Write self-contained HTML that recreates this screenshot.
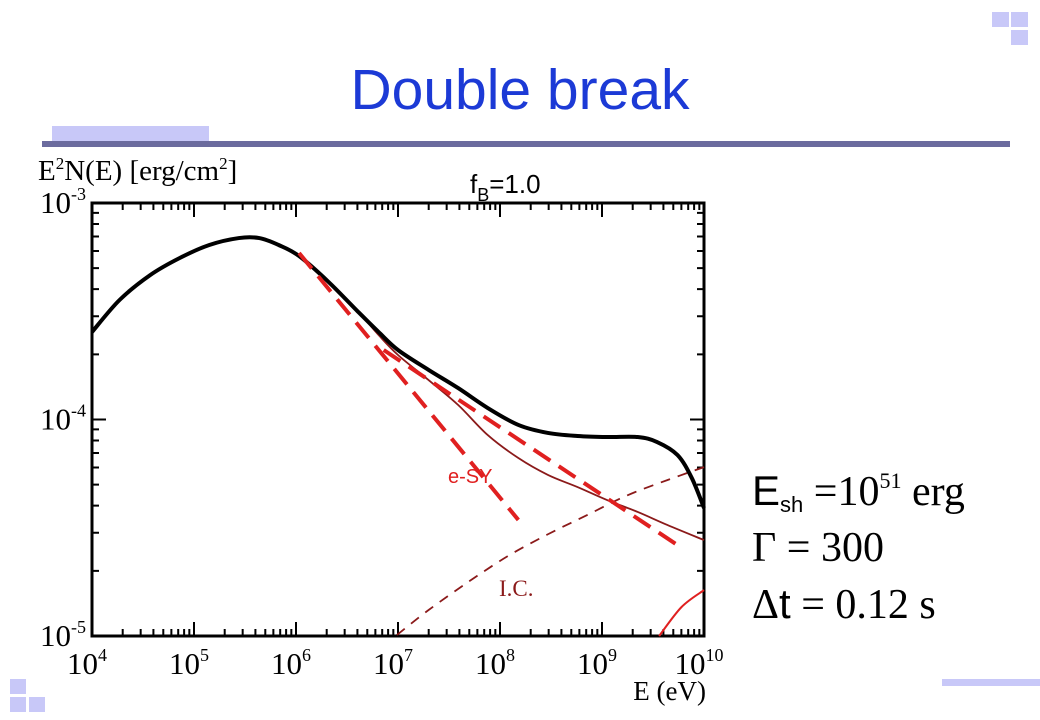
<!DOCTYPE html>
<html><head><meta charset="utf-8"><style>
body{margin:0;background:#fff;width:1040px;height:720px;overflow:hidden;position:relative;font-family:"Liberation Sans",sans-serif}
.sq{position:absolute;background:#c8c8f8}
</style></head><body>
<div class="sq" style="left:992px;top:12px;width:17px;height:15px"></div>
<div class="sq" style="left:1011px;top:12px;width:17px;height:15px"></div>
<div class="sq" style="left:1011px;top:30px;width:17px;height:15px"></div>
<div class="sq" style="left:10px;top:679px;width:16px;height:15px"></div>
<div class="sq" style="left:10px;top:697px;width:16px;height:15px"></div>
<div class="sq" style="left:29px;top:697px;width:16px;height:15px"></div>
<div class="sq" style="left:942px;top:679px;width:98px;height:7px"></div>
<div style="position:absolute;left:0;width:1040px;top:58px;text-align:center;font-size:57px;color:#1c3ad6;line-height:64px">Double break</div>
<div class="sq" style="left:52px;top:126px;width:157px;height:15px"></div>
<div style="position:absolute;left:42px;top:141px;width:968px;height:6px;background:#6b6b9e"></div>
<svg id="c" width="1040" height="720" style="position:absolute;left:0;top:0">
<text x="38" y="180" font-family="Liberation Serif,serif" font-size="29">E<tspan font-size="17" dy="-11">2</tspan><tspan dy="11">N(E) [erg/cm</tspan><tspan font-size="17" dy="-11">2</tspan><tspan dy="11">]</tspan></text>
<text x="470" y="193" font-size="26">f<tspan font-size="18" dy="8">B</tspan><tspan dy="-8">=1.0</tspan></text>
<text x="706" y="700" font-family="Liberation Serif,serif" font-size="27" text-anchor="end">E (eV)</text>
<g id="ticks"></g><g id="series"></g>
<text x="448" y="483" fill="#e02020" font-size="20">e-SY</text>
<text x="499" y="596" fill="#8b1a1a" font-family="Liberation Serif,serif" font-size="23">I.C.</text>
<g font-family="Liberation Serif,serif" font-size="42">
<text x="752" y="505"><tspan font-family="Liberation Sans,sans-serif">E</tspan><tspan font-family="Liberation Sans,sans-serif" font-size="22" dy="7">sh</tspan><tspan dy="-7"> =10</tspan><tspan font-size="22" dy="-17">51</tspan><tspan dy="17"> erg</tspan></text>
<text x="752" y="561">Γ = 300</text>
<text x="752" y="618">Δ<tspan font-family="Liberation Sans,sans-serif">t</tspan> = 0.12 s</text>
</g>
</svg>
<script>
const xDecades=[4,5,6,7,8,9,10];
const yDecades=[-3,-4,-5];
const totalLogE=[4.0,4.27,4.57,4.86,5.15,5.44,5.64,5.83,6.03,6.32,6.61,6.81,7.0,7.3,7.59,7.88,8.18,8.47,8.76,9.05,9.35,9.54,9.74,9.88,10.0];
const totalLogY=[-3.596,-3.448,-3.333,-3.254,-3.194,-3.162,-3.162,-3.194,-3.245,-3.365,-3.503,-3.596,-3.679,-3.771,-3.855,-3.947,-4.025,-4.062,-4.076,-4.081,-4.081,-4.104,-4.164,-4.27,-4.409];
const syLogE=[6.03,6.32,6.61,6.81,7.0,7.3,7.59,7.88,8.18,8.47,8.76,9.05,9.35,9.64,10.0];
const syLogY=[-3.245,-3.365,-3.503,-3.61,-3.702,-3.818,-3.933,-4.072,-4.178,-4.256,-4.312,-4.372,-4.427,-4.487,-4.557];
const icLogE=[6.99,7.3,7.69,8.08,8.47,8.86,9.25,9.64,10.0];
const icLogY=[-4.995,-4.88,-4.75,-4.63,-4.53,-4.44,-4.35,-4.28,-4.22];
const fit1LogE=[6.03,8.18], fit1LogY=[-3.231,-4.464];
const fit2LogE=[6.86,9.74], fit2LogY=[-3.679,-4.58];
const hiLogE=[9.56,9.78,10.0], hiLogY=[-5.0,-4.866,-4.788];
const X0=92,X1=704,Y0=203,Y1=636;
const sx=v=>X0+(v-4)/6*(X1-X0);
const sy=v=>Y0+(-3-v)/2*(Y1-Y0);
const NS='http://www.w3.org/2000/svg';
const T=document.getElementById('ticks'),S=document.getElementById('series');
function mk(p,tag,at){const e=document.createElementNS(NS,tag);for(const k in at)e.setAttribute(k,at[k]);p.appendChild(e);return e;}
const frame=mk(T,'rect',{x:X0,y:Y0,width:X1-X0,height:Y1-Y0,fill:'none',stroke:'#000','stroke-width':3});


let d='';
for(let i=0;i<xDecades.length-1;i++)for(let m=1;m<10;m++){const x=sx(xDecades[i]+Math.log10(m));const L=m==1?14:7;d+=`M${x},${Y1}v${-L}M${x},${Y0}v${L}`;}
for(let i=0;i<yDecades.length-1;i++)for(let m=1;m<10;m++){const y=sy(yDecades[i+1]+Math.log10(m));const L=m==1?14:7;d+=`M${X0},${y}h${L}M${X1},${y}h${-L}`;}
const tk=mk(T,'path',{d:d,stroke:'#000','stroke-width':2,fill:'none'});


xDecades.forEach(v=>{const t=mk(T,'text',{x:sx(v)-5,y:Y1+38,'text-anchor':'middle','font-family':'Liberation Serif,serif','font-size':31});t.innerHTML=`10<tspan font-size="18" dy="-13">${v}</tspan>`;

});
yDecades.forEach(v=>{const t=mk(T,'text',{x:X0-6,y:sy(v)+10,'text-anchor':'end','font-family':'Liberation Serif,serif','font-size':31});t.innerHTML=`10<tspan font-size="18" dy="-13">${v}</tspan>`;

});
function smooth(xs,ys){const P=xs.map((x,i)=>[sx(x),sy(ys[i])]);let s='M'+P[0][0]+','+P[0][1];
for(let i=0;i<P.length-1;i++){const p0=P[i-1]||P[i],p1=P[i],p2=P[i+1],p3=P[i+2]||P[i+1];
s+=`C${p1[0]+(p2[0]-p0[0])/6},${p1[1]+(p2[1]-p0[1])/6} ${p2[0]-(p3[0]-p1[0])/6},${p2[1]-(p3[1]-p1[1])/6} ${p2[0]},${p2[1]}`;}return s;}
function line(xs,ys,st,name){const p=mk(S,'path',Object.assign({d:smooth(xs,ys),fill:'none','stroke-linejoin':'round'},st));

}
line(icLogE,icLogY,{stroke:'#8b1a1a','stroke-width':1.8,'stroke-dasharray':'10,8'},'ic-curve');
line(hiLogE,hiLogY,{stroke:'#e02020','stroke-width':2},'high-energy-curve');
line(syLogE,syLogY,{stroke:'#8b1a1a','stroke-width':1.8},'synchrotron-curve');
line(totalLogE,totalLogY,{stroke:'#000','stroke-width':4},'total-curve');
line(fit1LogE,fit1LogY,{stroke:'#e02020','stroke-width':4,'stroke-dasharray':'20,10'},'e-sy-fit-steep');
line(fit2LogE,fit2LogY,{stroke:'#e02020','stroke-width':4,'stroke-dasharray':'20,10'},'e-sy-fit-shallow');
</script>
</body></html>
